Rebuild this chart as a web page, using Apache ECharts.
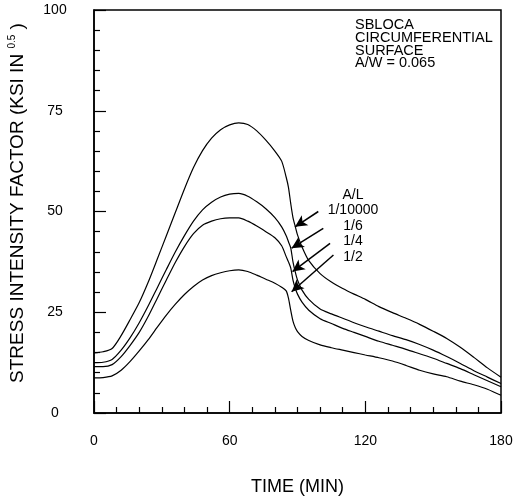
<!DOCTYPE html>
<html>
<head>
<meta charset="utf-8">
<script src="https://cdn.jsdelivr.net/npm/echarts@6/dist/echarts.min.js"></script>
<style>
    html, body { margin: 0; padding: 0; background: #fff; }
    #chart { width: 514px; height: 501px; }
</style>
</head>
<body>
<div id="chart"></div>
<script>
// time (min), shared by all curves
var times = [0, 4, 8, 12, 16, 20, 24, 28, 32, 36, 40, 44, 48, 52, 56, 60, 64, 68, 72, 76, 80, 83, 85, 86, 87, 88, 89, 90,
    92, 95, 100, 105, 110, 115, 120, 126, 132, 138, 144, 150, 156, 162, 168, 174, 180];

// stress intensity factor, one list per A/L
var kA10000 = [14.9, 15.2, 16.0, 19.2, 23.2, 27.4, 32.5, 38.2, 44.0, 49.8, 55.6, 60.9, 65.1, 68.2, 70.3, 71.5, 72.0, 71.6, 70.0, 67.7, 65.0, 62.5, 58.5, 56.0, 52.0, 48.5, 46.3, 44.2,
    41.2, 37.8, 34.6, 32.5, 30.9, 29.5, 28.2, 26.4, 24.9, 23.5, 22.0, 20.3, 18.5, 16.3, 13.8, 11.2, 8.9];
var kA6 = [12.5, 12.6, 13.3, 15.6, 18.7, 22.4, 26.6, 31.1, 35.6, 40.0, 44.0, 47.6, 50.4, 52.3, 53.6, 54.3, 54.5, 53.8, 52.4, 50.7, 48.5, 46.2, 44.0, 42.5, 41.0, 37.5, 35.0, 33.0,
    30.5, 28.2, 25.8, 24.6, 23.5, 22.4, 21.4, 20.3, 19.2, 18.2, 17.0, 15.6, 14.0, 12.3, 10.5, 8.9, 7.3];
var kA4 = [11.5, 11.5, 12.0, 14.0, 16.8, 20.0, 24.0, 28.5, 33.0, 37.4, 41.3, 44.5, 46.6, 47.6, 48.2, 48.4, 48.4, 47.6, 46.4, 45.0, 43.5, 41.5, 38.8, 37.5, 36.0, 33.0, 31.0, 29.5,
    27.5, 25.5, 23.4, 22.2, 21.0, 20.0, 19.0, 17.8, 16.8, 15.8, 14.7, 13.6, 12.3, 11.0, 9.5, 8.0, 6.5];
var kA2 = [8.7, 8.8, 9.2, 10.6, 12.8, 15.4, 18.2, 21.3, 24.3, 27.0, 29.4, 31.4, 33.0, 34.1, 34.8, 35.3, 35.5, 35.1, 34.2, 33.2, 32.2, 31.2, 30.3, 28.5, 25.5, 22.8, 21.2, 20.2,
    19.0, 18.0, 16.9, 16.2, 15.6, 15.0, 14.4, 13.7, 12.9, 11.8, 10.6, 9.7, 9.0, 7.9, 7.0, 5.9, 4.4];

var curveNames = ['1/10000', '1/6', '1/4', '1/2'];
var curveValues = [kA10000, kA6, kA4, kA2];

// arrows from the A/L labels to each curve: [tail, tip] in (min, ksi)
var arrowTails = [[99.2, 50.0], [101.4, 45.8], [104.4, 42.1], [105.9, 39.2]];
var arrowTips = [[88.9, 46.2], [87.4, 40.9], [87.8, 35.1], [87.4, 30.1]];

var FONT = 'Liberation Sans, Arial, Helvetica, sans-serif';

var myChart = echarts.init(document.getElementById('chart'), null, {renderer: 'canvas'});

var series = [];
for (var i = 0; i < curveValues.length; i++) {
    series.push({
        name: curveNames[i],
        type: 'line',
        data: times.map(function (t, j) { return [t, curveValues[i][j]]; }),
        showSymbol: false,
        smooth: 0.25,
        lineStyle: {
            color: '#000',
            width: 1.2
        },
        markLine: {
            silent: true,
            symbol: ['none', 'arrow'],
            symbolSize: [9, 12],
            label: { show: false },
            lineStyle: {
                color: '#000',
                width: 1.5,
                type: 'solid'
            },
            data: [[{ coord: arrowTails[i] }, { coord: arrowTips[i] }]]
        }
    });
}

var option = {
    backgroundColor: '#fff',
    animation: false,
    textStyle: { fontFamily: FONT, color: '#000' },
    grid: {
        left: 94,
        right: 13,
        top: 10,
        bottom: 88,
        outerBoundsMode: 'none',
        show: true,
        borderColor: '#000',
        borderWidth: 1.5
    },
    xAxis: {
        type: 'value',
        min: 0,
        max: 180,
        interval: 60,
        name: 'TIME (MIN)',
        nameLocation: 'middle',
        nameGap: 65,
        nameTextStyle: { fontSize: 18, fontFamily: FONT, color: '#000' },
        axisLine: { lineStyle: { color: '#000', width: 1.5 } },
        axisTick: { inside: true, length: 12, lineStyle: { color: '#000', width: 1.2 } },
        minorTick: { show: true, splitNumber: 6, length: 6, lineStyle: { color: '#000', width: 1.2 } },
        axisLabel: { fontSize: 14, fontFamily: FONT, color: '#000', margin: 21 },
        splitLine: { show: false }
    },
    yAxis: {
        type: 'value',
        min: 0,
        max: 100,
        interval: 25,
        name: '{a|STRESS INTENSITY FACTOR (KSI IN }{s|0.5}{a| )}',
        nameLocation: 'middle',
        nameGap: 66,
        nameTextStyle: {
            fontFamily: FONT,
            color: '#000',
            padding: [0, 0, 0, 17],
            rich: {
                a: { fontSize: 19, fontFamily: FONT, color: '#000' },
                s: { fontSize: 10, fontFamily: FONT, color: '#000', padding: [0, 0, 11, 0] }
            }
        },
        axisLine: { lineStyle: { color: '#000', width: 1.5 } },
        axisTick: { inside: true, length: 12, lineStyle: { color: '#000', width: 1.2 } },
        minorTick: { show: true, splitNumber: 5, length: 6, lineStyle: { color: '#000', width: 1.2 } },
        axisLabel: { fontSize: 14, fontFamily: FONT, color: '#000', margin: 39, align: 'center' },
        splitLine: { show: false }
    },
    graphic: [{
        type: 'text',
        x: 355,
        y: 19,
        style: {
            text: 'SBLOCA\nCIRCUMFERENTIAL\nSURFACE\nA/W = 0.065',
            font: '14.5px ' + FONT,
            lineHeight: 12.7,
            fill: '#000',
            verticalAlign: 'top'
        }
    }, {
        type: 'text',
        x: 353,
        y: 187,
        style: {
            text: 'A/L\n1/10000\n1/6\n1/4\n1/2',
            font: '14px ' + FONT,
            lineHeight: 15.5,
            fill: '#000',
            align: 'center',
            verticalAlign: 'top'
        }
    }],
    series: series
};

myChart.setOption(option);
</script>
</body>
</html>
